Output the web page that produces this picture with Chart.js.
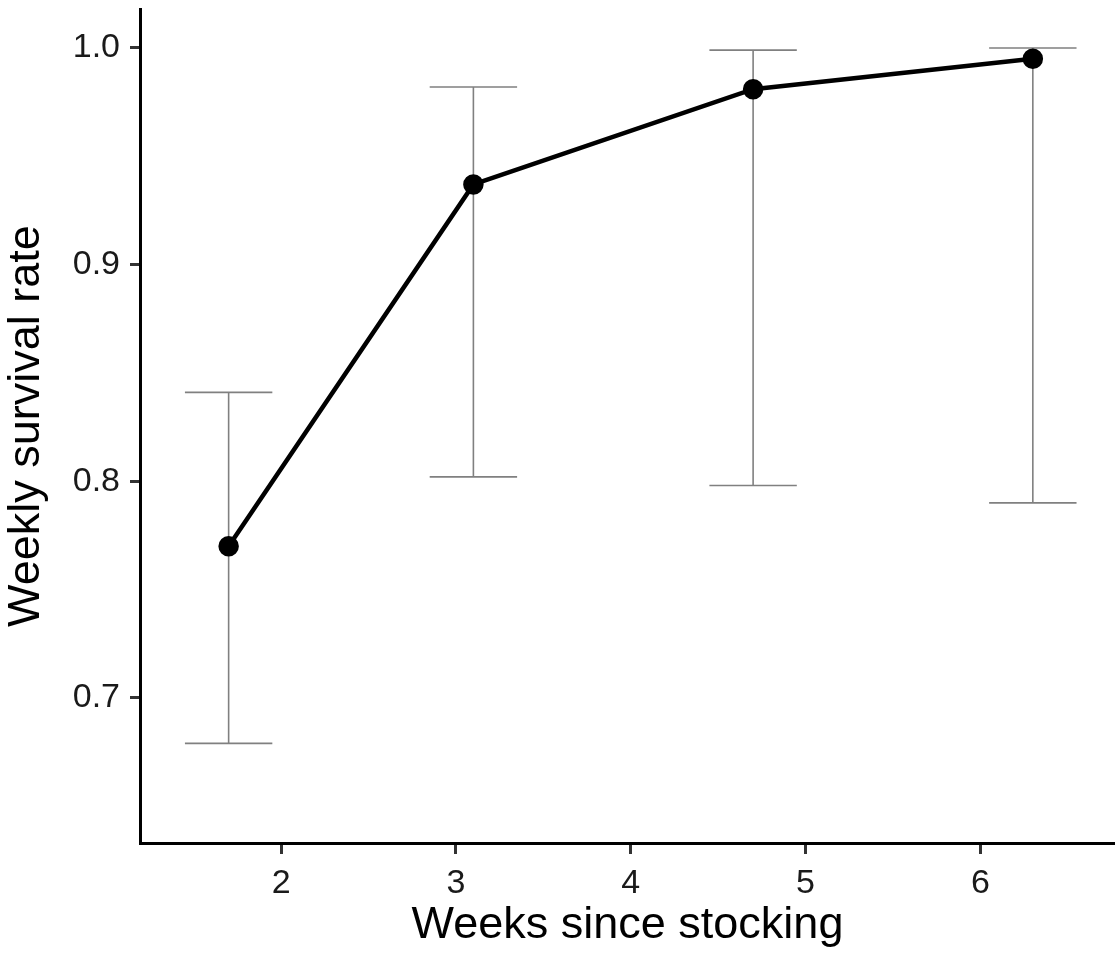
<!DOCTYPE html>
<html>
<head>
<meta charset="utf-8">
<script src="https://cdn.jsdelivr.net/npm/chart.js@4"></script>
<style>
    body { margin: 0; background: #fff; overflow: hidden; }
    #wrap { width: 1115px; height: 955px; }
    canvas { display: block; }
</style>
</head>
<body>
<div id="wrap"><canvas id="survivalChart" width="1115" height="955"></canvas></div>
<script>
// Data
const weeks = [1.7, 3.1, 4.7, 6.3];
const survival = [0.770, 0.937, 0.981, 0.995];
const lowerCI = [0.679, 0.802, 0.798, 0.790];
const upperCI = [0.841, 0.982, 0.999, 1.000];
const xTicks = [2, 3, 4, 5, 6];
const yTicks = [0.7, 0.8, 0.9, 1.0];

const FONT = "'Liberation Sans', Arial, sans-serif";

// Error bars drawn behind the line, through the chart scales
const errorBars = {
    id: 'errorBars',
    beforeDatasetsDraw(chart) {
        const ctx = chart.ctx;
        const x = chart.scales.x;
        const y = chart.scales.y;
        ctx.save();
        ctx.strokeStyle = '#808080';
        ctx.lineWidth = 1.6;
        weeks.forEach((w, i) => {
            const px = x.getPixelForValue(w);
            const left = x.getPixelForValue(w - 0.25);
            const right = x.getPixelForValue(w + 0.25);
            const top = y.getPixelForValue(upperCI[i]);
            const bottom = y.getPixelForValue(lowerCI[i]);
            ctx.beginPath();
            ctx.moveTo(px, top);
            ctx.lineTo(px, bottom);
            ctx.moveTo(left, top);
            ctx.lineTo(right, top);
            ctx.moveTo(left, bottom);
            ctx.lineTo(right, bottom);
            ctx.stroke();
        });
        ctx.restore();
    }
};

const ctx = document.getElementById('survivalChart').getContext('2d');
const survivalChart = new Chart(ctx, {
    type: 'line',
    data: {
        datasets: [{
            data: weeks.map((w, i) => ({ x: w, y: survival[i] })),
            borderColor: '#000',
            backgroundColor: '#000',
            borderWidth: 4.5,
            pointRadius: 8,
            pointHoverRadius: 8,
            tension: 0,
            clip: false
        }]
    },
    options: {
        responsive: false,
        animation: false,
        layout: { autoPadding: false, padding: { top: 9, right: 0, bottom: 0, left: 0 } },
        plugins: {
            legend: { display: false },
            tooltip: { enabled: false }
        },
        scales: {
            x: {
                type: 'linear',
                min: 1.193,
                max: 6.77,
                afterBuildTicks: axis => { axis.ticks = xTicks.map(v => ({ value: v })); },
                afterFit: axis => {
                    axis.height = 112;
                    axis.paddingLeft = 0;
                    axis.paddingRight = 0;
                },
                border: { color: '#000', width: 3 },
                grid: {
                    drawOnChartArea: false,
                    drawTicks: true,
                    tickLength: 11,
                    tickColor: '#333',
                    tickWidth: 3
                },
                ticks: {
                    color: '#1a1a1a',
                    font: { family: FONT, size: 34 },
                    padding: 9,
                    maxRotation: 0,
                    callback: v => String(v)
                },
                title: {
                    display: true,
                    text: 'Weeks since stocking',
                    color: '#000',
                    font: { family: FONT, size: 45 },
                    padding: { top: 0, bottom: 2 }
                }
            },
            y: {
                min: 0.633,
                max: 1.018,
                afterBuildTicks: axis => { axis.ticks = yTicks.map(v => ({ value: v })); },
                afterFit: axis => {
                    axis.width = 140;
                    axis.paddingTop = 0;
                    axis.paddingBottom = 0;
                },
                border: { color: '#000', width: 3 },
                grid: {
                    drawOnChartArea: false,
                    drawTicks: true,
                    tickLength: 10,
                    tickColor: '#333',
                    tickWidth: 3
                },
                ticks: {
                    color: '#1a1a1a',
                    font: { family: FONT, size: 34 },
                    padding: 10,
                    callback: v => v.toFixed(1)
                },
                title: {
                    display: true,
                    text: 'Weekly survival rate',
                    color: '#000',
                    font: { family: FONT, size: 45 },
                    padding: { top: 0, bottom: 0 }
                }
            }
        }
    },
    plugins: [errorBars]
});
</script>
</body>
</html>
